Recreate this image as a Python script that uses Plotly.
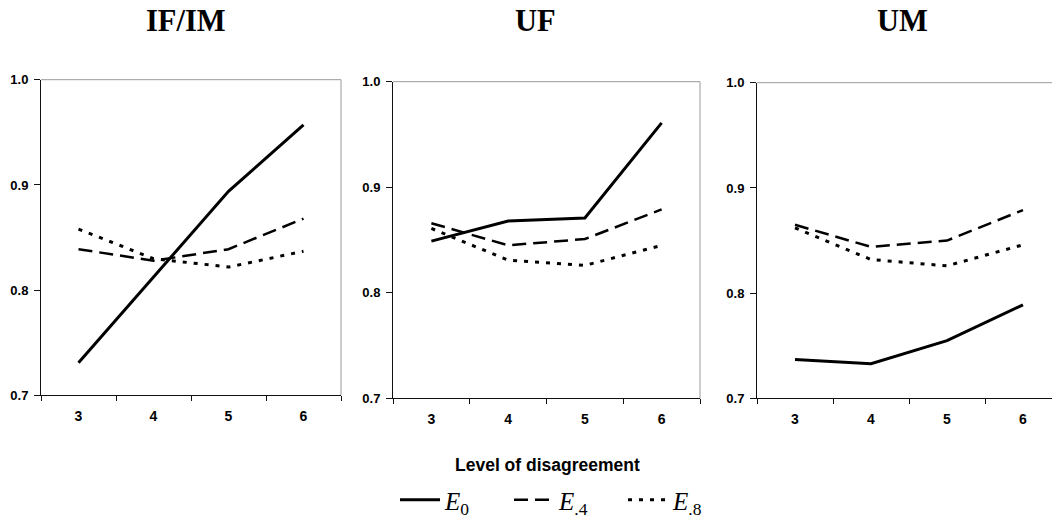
import plotly.graph_objects as go
from plotly.subplots import make_subplots

categories = ["3", "4", "5", "6"]
panel_titles = ["IF/IM", "UF", "UM"]
series_names = ["<i>E</i><sub>0</sub>", "<i>E</i><sub>.4</sub>", "<i>E</i><sub>.8</sub>"]

ifim_e0 = [0.731, 0.813, 0.894, 0.957]
ifim_e4 = [0.839, 0.828, 0.839, 0.868]
ifim_e8 = [0.858, 0.830, 0.822, 0.837]

uf_e0 = [0.849, 0.868, 0.871, 0.961]
uf_e4 = [0.866, 0.845, 0.851, 0.879]
uf_e8 = [0.861, 0.831, 0.826, 0.845]

um_e0 = [0.737, 0.733, 0.755, 0.789]
um_e4 = [0.865, 0.844, 0.850, 0.879]
um_e8 = [0.862, 0.832, 0.826, 0.846]

y_ticks = [0.7, 0.8, 0.9, 1.0]
x_label = "Level of disagreement"

panels = [
    [ifim_e0, ifim_e4, ifim_e8],
    [uf_e0, uf_e4, uf_e8],
    [um_e0, um_e4, um_e8],
]

W, H = 1052, 523
line_styles = [
    dict(color="black", width=3, dash="solid"),
    dict(color="black", width=2.5, dash="14px,7px"),
    dict(color="black", width=3, dash="4px,7px"),
]

fig = make_subplots(rows=1, cols=3)

for p, series in enumerate(panels):
    for s, vals in enumerate(series):
        fig.add_trace(
            go.Scatter(
                x=categories, y=vals, mode="lines",
                line=line_styles[s], name=series_names[s],
                showlegend=(p == 0),
            ),
            row=1, col=p + 1,
        )

# pixel layout of the three plot areas
x_px = [(41, 341), (393, 700), (757, 1052)]
y_px = [(80, 397), (82, 400), (83, 400)]
x_ranges = [[-0.5, 3.5], [-0.5, 3.5], [-0.5, -0.5 + 295 / 76]]

axis_color = "#111111"
ytick_font = dict(family="Liberation Sans, Arial", size=13, color="black", weight="bold")
xtick_font = dict(family="Liberation Sans, Arial", size=14, color="black", weight="bold")

for i in range(3):
    xa = "xaxis" if i == 0 else f"xaxis{i+1}"
    ya = "yaxis" if i == 0 else f"yaxis{i+1}"
    fig.update_layout({
        xa: dict(
            domain=[x_px[i][0] / W, x_px[i][1] / W],
            type="category", categoryorder="array", categoryarray=categories,
            range=x_ranges[i], tickson="boundaries",
            showline=True, linecolor=axis_color, linewidth=1,
            ticks="outside", ticklen=5, tickcolor=axis_color, tickwidth=1,
            showgrid=False, zeroline=False, tickfont=xtick_font,
            ticklabelstandoff=8,
            automargin=False, fixedrange=True,
        ),
        ya: dict(
            domain=[1 - y_px[i][1] / H, 1 - y_px[i][0] / H],
            range=[0.7, 1.0], tickvals=y_ticks, tickformat=".1f",
            showline=True, linecolor=axis_color, linewidth=1,
            ticks="outside", ticklen=6, tickcolor=axis_color, tickwidth=1,
            showgrid=False, zeroline=False, tickfont=ytick_font,
            ticklabelstandoff=3,
            automargin=False, fixedrange=True,
        ),
    })
    xref = "x domain" if i == 0 else f"x{i+1} domain"
    yref = "y domain" if i == 0 else f"y{i+1} domain"
    # light grey top / right frame
    fig.add_shape(type="line", xref=xref, yref=yref, x0=0, x1=1, y0=1, y1=1,
                  line=dict(color="#9a9a9a", width=1), layer="below")
    if i < 2:
        fig.add_shape(type="line", xref=xref, yref=yref, x0=1, x1=1, y0=0, y1=1,
                      line=dict(color="#9a9a9a", width=1), layer="below")

title_x = [186, 535, 902]
annotations = []
for i, t in enumerate(panel_titles):
    annotations.append(dict(
        text=f"<b>{t}</b>", x=title_x[i] / W, y=1 - 21 / H, xref="paper", yref="paper",
        xanchor="center", yanchor="middle", showarrow=False,
        font=dict(family="Liberation Serif, Times New Roman", size=30.5, color="black"),
    ))
annotations.append(dict(
    text=f"<b>{x_label}</b>", x=547 / W, y=1 - 467 / H, xref="paper", yref="paper",
    xanchor="center", yanchor="middle", showarrow=False,
    font=dict(family="Liberation Sans, Arial", size=17.5, color="black"),
))

fig.update_layout(
    width=W, height=H,
    margin=dict(l=0, r=0, t=0, b=0),
    paper_bgcolor="white", plot_bgcolor="white",
    annotations=annotations,
    showlegend=True,
    legend=dict(
        orientation="h", x=566 / W, xanchor="center", y=1 - 502 / H, yanchor="middle",
        font=dict(family="Liberation Serif, Times New Roman", size=25, color="black"),
        bgcolor="rgba(0,0,0,0)", itemwidth=40,
        entrywidth=59, entrywidthmode="pixels", tracegroupgap=0,
    ),
)

fig.write_html(
    "out.html",
    config={"displayModeBar": False},
    post_script="document.body.style.margin='0';document.body.style.overflow='hidden';",
)
